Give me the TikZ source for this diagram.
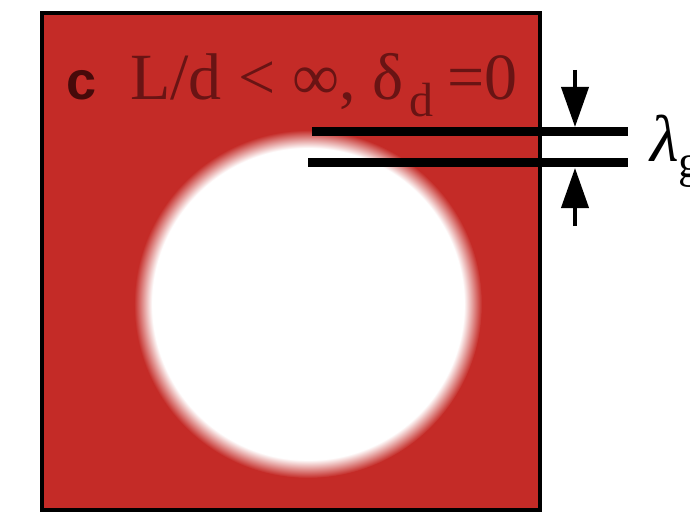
\documentclass[tikz,border=0pt]{standalone}
\usepackage{fontspec}
\setmainfont{Liberation Serif}
\newfontfamily\panelfont{Liberation Sans}
\usetikzlibrary{arrows.meta}
\definecolor{cellred}{RGB}{196,43,39}
\definecolor{textred}{RGB}{105,20,20}
\definecolor{panelred}{RGB}{70,10,10}
\pgfdeclareradialshading{pore}{\pgfpoint{0bp}{0bp}}{color(0bp)=(white); color(22.4bp)=(white); color(25bp)=(cellred); color(50bp)=(cellred)}
\newcommand{\lowsub}[1]{\raisebox{-17pt}{\fontsize{48}{50}\selectfont #1}}

\begin{document}
\begin{tikzpicture}[x=1pt, y=-1pt,
  wall/.style={line width=9pt, black},
  dim/.style={-{Triangle[length=40pt,width=27pt]}, line width=4pt, black},
  big/.style={font=\fontsize{66}{70}\selectfont}
]
  \clip (0,0) rectangle (690,513);
  \fill[white] (0,0) rectangle (690,513);

  % cell with the pore
  \fill[cellred] (42,13) rectangle (540,510);
  \shade[shading=pore] (308,304) circle (174);
  \draw[line width=4pt] (42,13) rectangle (540,510);

  \node[anchor=base west, inner sep=0pt, text=panelred, font=\panelfont\bfseries\fontsize{54}{56}\selectfont] (panel) at (66,100) {c};
  \node[anchor=base west, inner sep=0pt, text=textred, big] (title) at (130,100) {L/d < ∞, δ\kern6pt\lowsub{d}\kern14pt=0};

  % layer thickness
  \coordinate (upL) at (312,132);
  \coordinate (upR) at (628,132);
  \coordinate (loL) at (308,163);
  \coordinate (loR) at (628,163);
  \draw[wall] (upL) -- (upR);
  \draw[wall] (loL) -- (loR);

  \coordinate (topS) at (575,70);
  \coordinate (topE) at (575,127);
  \coordinate (botS) at (575,226);
  \coordinate (botE) at (575,168);
  \draw[dim] (topS) -- (topE);
  \draw[dim] (botS) -- (botE);

  \node[anchor=base west, inner sep=0pt, big] (lam) at (650,162) {\textit{λ}\textsubscript{g}};
\end{tikzpicture}
\end{document}
